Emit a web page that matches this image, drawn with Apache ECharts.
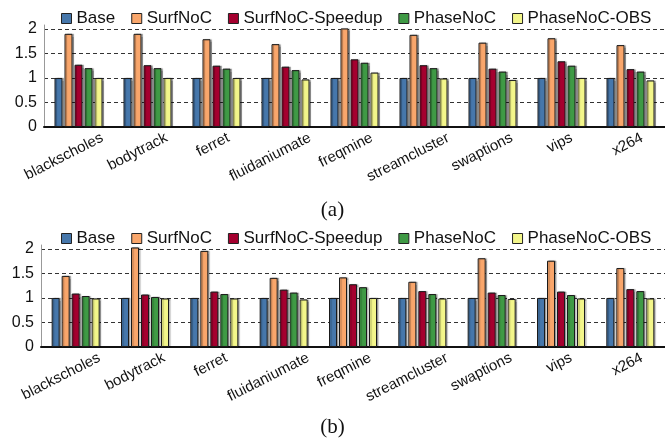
<!DOCTYPE html>
<html>
<head>
<meta charset="utf-8">
<script src="https://cdn.jsdelivr.net/npm/echarts@6/dist/echarts.min.js"></script>
<style>
  html, body { margin: 0; padding: 0; background: #fff; }
  #chart { width: 665px; height: 441px; }
</style>
</head>
<body>
<div id="chart"></div>
<script>
// benchmarks on the x axis
var categories = ['blackscholes', 'bodytrack', 'ferret', 'fluidaniumate', 'freqmine',
  'streamcluster', 'swaptions', 'vips', 'x264'];
var seriesNames = ['Base', 'SurfNoC', 'SurfNoC-Speedup', 'PhaseNoC', 'PhaseNoC-OBS'];
var yTicks = [0, 0.5, 1, 1.5, 2];

// (a)
var baseA = [1, 1, 1, 1, 1, 1, 1, 1, 1];
var surfA = [1.90, 1.90, 1.79, 1.69, 2.01, 1.88, 1.72, 1.81, 1.67];
var speedupA = [1.27, 1.26, 1.25, 1.23, 1.38, 1.26, 1.19, 1.34, 1.18];
var phaseA = [1.20, 1.20, 1.19, 1.16, 1.31, 1.20, 1.13, 1.25, 1.13];
var obsA = [1.00, 1.00, 1.00, 0.97, 1.11, 0.99, 0.96, 1.00, 0.95];

// (b)
var baseB = [1, 1, 1, 1, 1, 1, 1, 1, 1];
var surfB = [1.45, 2.03, 1.96, 1.41, 1.42, 1.33, 1.81, 1.76, 1.61];
var speedupB = [1.09, 1.07, 1.13, 1.17, 1.28, 1.14, 1.11, 1.13, 1.18];
var phaseB = [1.04, 1.02, 1.08, 1.11, 1.22, 1.08, 1.06, 1.06, 1.14];
var obsB = [0.99, 0.99, 0.99, 0.97, 1.00, 0.99, 0.98, 0.99, 0.99];

var colors = ['#4677ab', '#f9a66b', '#a5002f', '#3f9a45', '#f3f68a'];
var FONT = 'Liberation Sans, Arial, sans-serif';
var ROT = 27;

var chart = echarts.init(document.getElementById('chart'));

// long rotated labels sit a bit right of the tick in the original.
// shift along the text (padding) + across it (empty first line) = pure sideways move
var ctx = document.createElement('canvas').getContext('2d');
ctx.font = '15px ' + FONT;
var rad = ROT * Math.PI / 180;
var labelData = categories.map(function (c) {
  var w = ctx.measureText(c).width;
  var d = 4 + 0.23 * w;
  return {
    value: c,
    textStyle: {
      padding: [0, -d * Math.cos(rad), 0, 0],
      lineHeight: 2 * d * Math.sin(rad)
    }
  };
});

function xAxis(idx) {
  return {
    type: 'category',
    gridIndex: idx,
    data: labelData,
    axisLine: { lineStyle: { color: '#111', width: 2 } },
    axisTick: { show: false },
    axisLabel: {
      rotate: ROT,
      margin: 10,
      interval: 0,
      color: '#111',
      fontSize: 15,
      fontFamily: FONT,
      formatter: function (v) { return '\n' + v; }
    }
  };
}

function yAxis(idx) {
  return {
    type: 'value',
    gridIndex: idx,
    min: 0,
    max: 2.08,
    interval: 0.5,
    axisLine: { show: true, lineStyle: { color: '#999', width: 1 } },
    axisTick: { show: false },
    axisLabel: {
      showMaxLabel: false,
      margin: 7,
      color: '#111',
      fontSize: 16,
      fontFamily: FONT,
      formatter: function (v) { return yTicks.indexOf(v) >= 0 ? String(v) : ''; }
    },
    splitLine: {
      show: true,
      showMaxLine: false,
      lineStyle: { color: '#333', type: [4, 3], width: 1 }
    }
  };
}

function legend(top) {
  return {
    top: top,
    left: 56,
    data: seriesNames,
    itemWidth: 10,
    itemHeight: 10,
    itemGap: 16,
    icon: 'rect',
    textStyle: { fontSize: 17, color: '#111', fontFamily: FONT },
    itemStyle: { borderColor: '#222', borderWidth: 1 }
  };
}

var dataA = [baseA, surfA, speedupA, phaseA, obsA];
var dataB = [baseB, surfB, speedupB, phaseB, obsB];

var series = [];
[dataA, dataB].forEach(function (set, g) {
  set.forEach(function (vals, i) {
    series.push({
      name: seriesNames[i],
      type: 'bar',
      xAxisIndex: g,
      yAxisIndex: g,
      data: vals,
      barWidth: 8,
      barGap: '25%',
      clip: false,
      itemStyle: {
        color: colors[i],
        borderColor: '#1a1a1a',
        borderWidth: 1,
        shadowColor: 'rgba(0,0,0,0.3)',
        shadowOffsetX: 1.5,
        shadowBlur: 1
      }
    });
  });
});

var option = {
  animation: false,
  backgroundColor: '#fff',
  color: colors,
  title: [
    { text: '(a)', left: 'center', top: 195,
      textStyle: { fontSize: 21, fontWeight: 'normal', color: '#111', fontFamily: 'Liberation Serif, Times New Roman, serif' } },
    { text: '(b)', left: 'center', top: 412,
      textStyle: { fontSize: 21, fontWeight: 'normal', color: '#111', fontFamily: 'Liberation Serif, Times New Roman, serif' } }
  ],
  legend: [legend(5), legend(225)],
  grid: [
    { left: 44, right: -2, top: 25, height: 102 },
    { left: 41, right: 0, top: 245, height: 102 }
  ],
  xAxis: [xAxis(0), xAxis(1)],
  yAxis: [yAxis(0), yAxis(1)],
  series: series
};

chart.setOption(option);
</script>
</body>
</html>
